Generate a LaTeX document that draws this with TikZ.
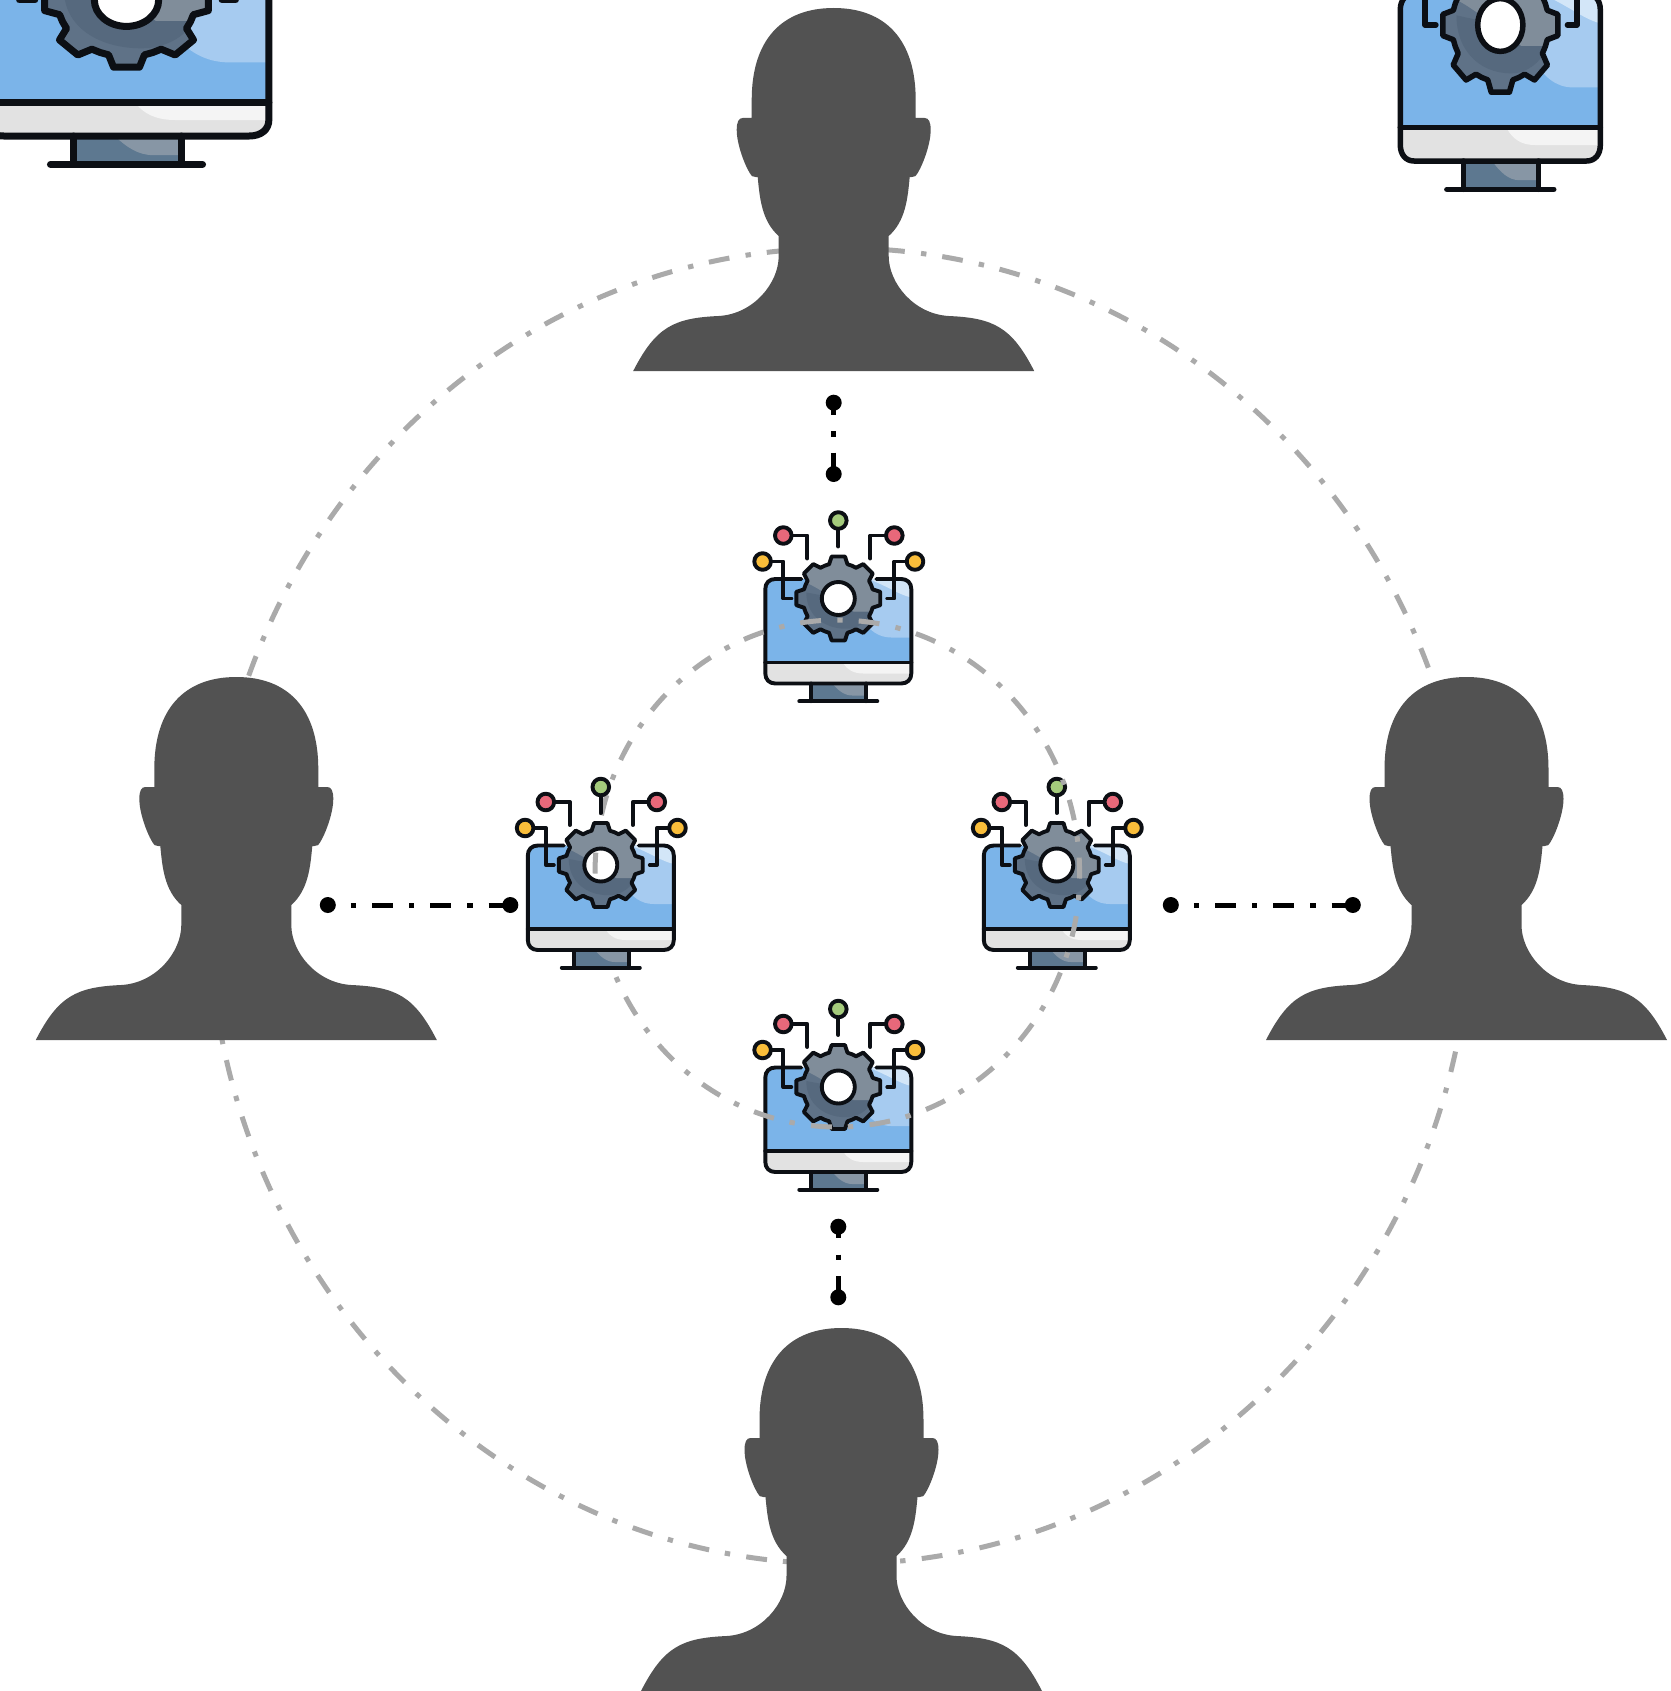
\documentclass[tikz,border=0pt]{standalone}
\definecolor{persongray}{HTML}{525252}
\definecolor{ringgray}{HTML}{AAAAAA}
\definecolor{scr}{HTML}{7BB4E9}
\definecolor{scrlight}{HTML}{A6CBF0}
\definecolor{scrpale}{HTML}{D3E6F8}
\definecolor{panel}{HTML}{E2E2E2}
\definecolor{panelhi}{HTML}{F4F4F4}
\definecolor{standc}{HTML}{5D7890}
\definecolor{standl}{HTML}{8796A5}
\definecolor{gearmid}{HTML}{5F7287}
\definecolor{gearlight}{HTML}{808D9A}
\definecolor{geardark}{HTML}{56697E}
\definecolor{ink}{HTML}{0C0F14}
\definecolor{nodegreen}{HTML}{A4CB7C}
\definecolor{nodered}{HTML}{E8687A}
\definecolor{nodeyellow}{HTML}{F9BD3A}
\newcommand\gearpath{(22.5:35.5) \foreach \a in {45,90,...,360}{ -- (\a-15:35.5) -- (\a-9:42.5) -- (\a+9:42.5) -- (\a+15:35.5) -- (\a+22.5:35.5)} -- cycle}
\tikzset{
  ringline/.style={draw=ringgray,line width=5pt,dash pattern=on 20.9pt off 16.4pt on 5.4pt off 16pt},
  conn/.style={draw=black,line width=5pt,dash pattern=on 20.7pt off 16.3pt on 5.3pt off 16pt},
  enddot/.style={circle,fill=black,inner sep=0pt,minimum size=16pt},
  personpic/.pic={
    \fill[persongray] (0,0) .. controls (52,0) and (82,32) .. (82,92) -- (82,110) -- (91,110)
      .. controls (95,110) and (97,114) .. (97,122) .. controls (97,135) and (90,155) .. (84,165)
      .. controls (83,168) and (81,169) .. (78,169) -- (76,169) .. controls (74,190) and (72,213) .. (55,228)
      -- (55,248) .. controls (55,275) and (80,306) .. (115,308) .. controls (160,310) and (178,319) .. (200.5,363)
      -- (-200.5,363) .. controls (-178,319) and (-160,310) .. (-115,308) .. controls (-80,306) and (-55,275) .. (-55,248)
      -- (-55,228) .. controls (-72,213) and (-74,190) .. (-76,169) -- (-78,169) .. controls (-81,169) and (-83,168) .. (-84,165)
      .. controls (-90,155) and (-97,135) .. (-97,122) .. controls (-97,114) and (-95,110) .. (-91,110) -- (-82,110) -- (-82,92)
      .. controls (-82,32) and (-52,0) .. (0,0) -- cycle;
  },
  pics/gearmon/.style={code={
    % screen
    \fill[scr] (-73,64) -- (-73,-9.5) .. controls (-73,-15.5) and (-69,-19.5) .. (-63,-19.5) -- (63,-19.5) .. controls (69,-19.5) and (73,-15.5) .. (73,-9.5) -- (73,64) -- cycle;
    \fill[scrlight] (20,-19.5) -- (63,-19.5) .. controls (69,-19.5) and (73,-15.5) .. (73,-9.5) -- (73,39) -- (53,39) .. controls (40,39) and (32,32) .. (24,22) -- cycle;
    \fill[scrpale] (30,-19.5) -- (63,-19.5) .. controls (69,-19.5) and (73,-15.5) .. (73,-9.5) -- (73,-1) .. controls (60,-4) and (50,-12) .. (30,-19.5) -- cycle;
    % lower panel
    \fill[panel] (-73,64) -- (-73,75) .. controls (-73,81) and (-69,85) .. (-63,85) -- (63,85) .. controls (69,85) and (73,81) .. (73,75) -- (73,64) -- cycle;
    \fill[panelhi] (5,65) -- (71,65) -- (71,75) -- (25,75) .. controls (15,75) and (9,71) .. (5,65) -- cycle;
    % stand
    \fill[standc] (-27,85) rectangle (28,102.7);
    \fill[standl] (-6,85) -- (28,85) -- (28,97) -- (14,97) .. controls (6,97) and (0,92) .. (-6,85) -- cycle;
    \begin{scope}[draw=ink,line width=#1,line cap=round,line join=round]
      \draw (-37,-19.5) -- (-63,-19.5) .. controls (-69,-19.5) and (-73,-15.5) .. (-73,-9.5) -- (-73,75)
        .. controls (-73,81) and (-69,85) .. (-63,85) -- (63,85) .. controls (69,85) and (73,81) .. (73,75)
        -- (73,-9.5) .. controls (73,-15.5) and (69,-19.5) .. (63,-19.5) -- (38,-19.5);
      \draw (-73,64) -- (73,64);
      \draw (-27,85) -- (-27,102.7) (28,85) -- (28,102.7);
      \draw (-39,102.7) -- (39,102.7);
      % wires
      \draw (0,-70) -- (0,-52);
      \draw (-47,-63) -- (-31,-63) -- (-31,-40);
      \draw (47,-63) -- (32,-63) -- (32,-40);
      \draw (-67,-37) -- (-55,-37) -- (-55,0) -- (-47,0);
      \draw (67,-37) -- (56,-37) -- (56,0) -- (49,0);
      % terminals
      \draw[fill=nodegreen] (0,-78) circle [radius=8.3];
      \draw[fill=nodered] (-55,-63) circle [radius=8.3];
      \draw[fill=nodered] (56,-63) circle [radius=8.3];
      \draw[fill=nodeyellow] (-75.7,-37) circle [radius=8.3];
      \draw[fill=nodeyellow] (76.7,-37) circle [radius=8.3];
      % gear
      \fill[gearmid] \gearpath;
      \begin{scope}
        \clip \gearpath;
        \fill[geardark] (-32,-6) .. controls (-32,18) and (-12,32) .. (12,30) .. controls (24,28) and (32,20) .. (34,13) -- (15,13) -- (0,0) -- cycle;
        \fill[gearlight] (-50,-50) -- (50,-50) -- (50,13) -- (15,13) -- (0,0) -- (-14,-6) .. controls (-24,-12) and (-34,-18) .. (-50,-22) -- cycle;
      \end{scope}
      \draw \gearpath;
      \draw[fill=white] (0,0) circle [radius=16.5];
    \end{scope}
  }},
}
\begin{document}
\begin{tikzpicture}[x=1pt,y=-1pt]
  \useasboundingbox (0,0) rectangle (1670,1691);
  \clip (0,0) rectangle (1670,1691);
  \fill[white] (0,0) rectangle (1670,1691);
  % outer ring, behind the people; it starts at its left end
  \draw[ringline,rotate around={180:(840,906)}] (840,906) ellipse [x radius=631,y radius=658];
  % people
  \pic (ptop) at (833.7,8) {personpic};
  \pic (pleft) at (236.3,677) {personpic};
  \pic (pright) at (1466.5,677) {personpic};
  \pic (pbottom) at (841.5,1328) {personpic};
  % cropped monitors
  \pic[xscale=1.95,yscale=1.6] (mtl) at (126.5,0) {gearmon={7pt}};
  \pic[xscale=1.37,yscale=1.6] (mtr) at (1500.3,25) {gearmon={5.5pt}};
  % monitors under the inner ring
  \pic (mtop) at (838.3,598.5) {gearmon={3.9pt}};
  \pic (mright) at (1056.8,865) {gearmon={3.9pt}};
  \pic (mbottom) at (838.3,1087) {gearmon={3.9pt}};
  % inner ring
  \draw[ringline,rotate around={180:(837.3,873.5)}] (837.3,873.5) ellipse [x radius=242.3,y radius=253.5];
  % left monitor stands over the ring, the ring shows through its hole
  \pic (mleft) at (600.8,865) {gearmon={3.9pt}};
  \begin{scope}
    \clip (600.8,865) circle [radius=14.5];
    \draw[ringline,rotate around={180:(837.3,873.5)}] (837.3,873.5) ellipse [x radius=242.3,y radius=253.5];
  \end{scope}
  % connectors
  \node[enddot] (t1) at (833.7,402.7) {};
  \node[enddot] (t2) at (833.7,474) {};
  \draw[conn,dash phase=8.4pt] (t1.center) -- (t2.center);
  \node[enddot] (l1) at (327.8,905) {};
  \node[enddot] (l2) at (510.3,905) {};
  \draw[conn,dash phase=14pt] (l1.center) -- (l2.center);
  \node[enddot] (r1) at (1170.8,905) {};
  \node[enddot] (r2) at (1352.8,905) {};
  \draw[conn,dash phase=14pt] (r1.center) -- (r2.center);
  \node[enddot] (b1) at (838.3,1226.7) {};
  \node[enddot] (b2) at (838.3,1297.3) {};
  \draw[conn,dash phase=9pt] (b1.center) -- (b2.center);
\end{tikzpicture}
\end{document}
